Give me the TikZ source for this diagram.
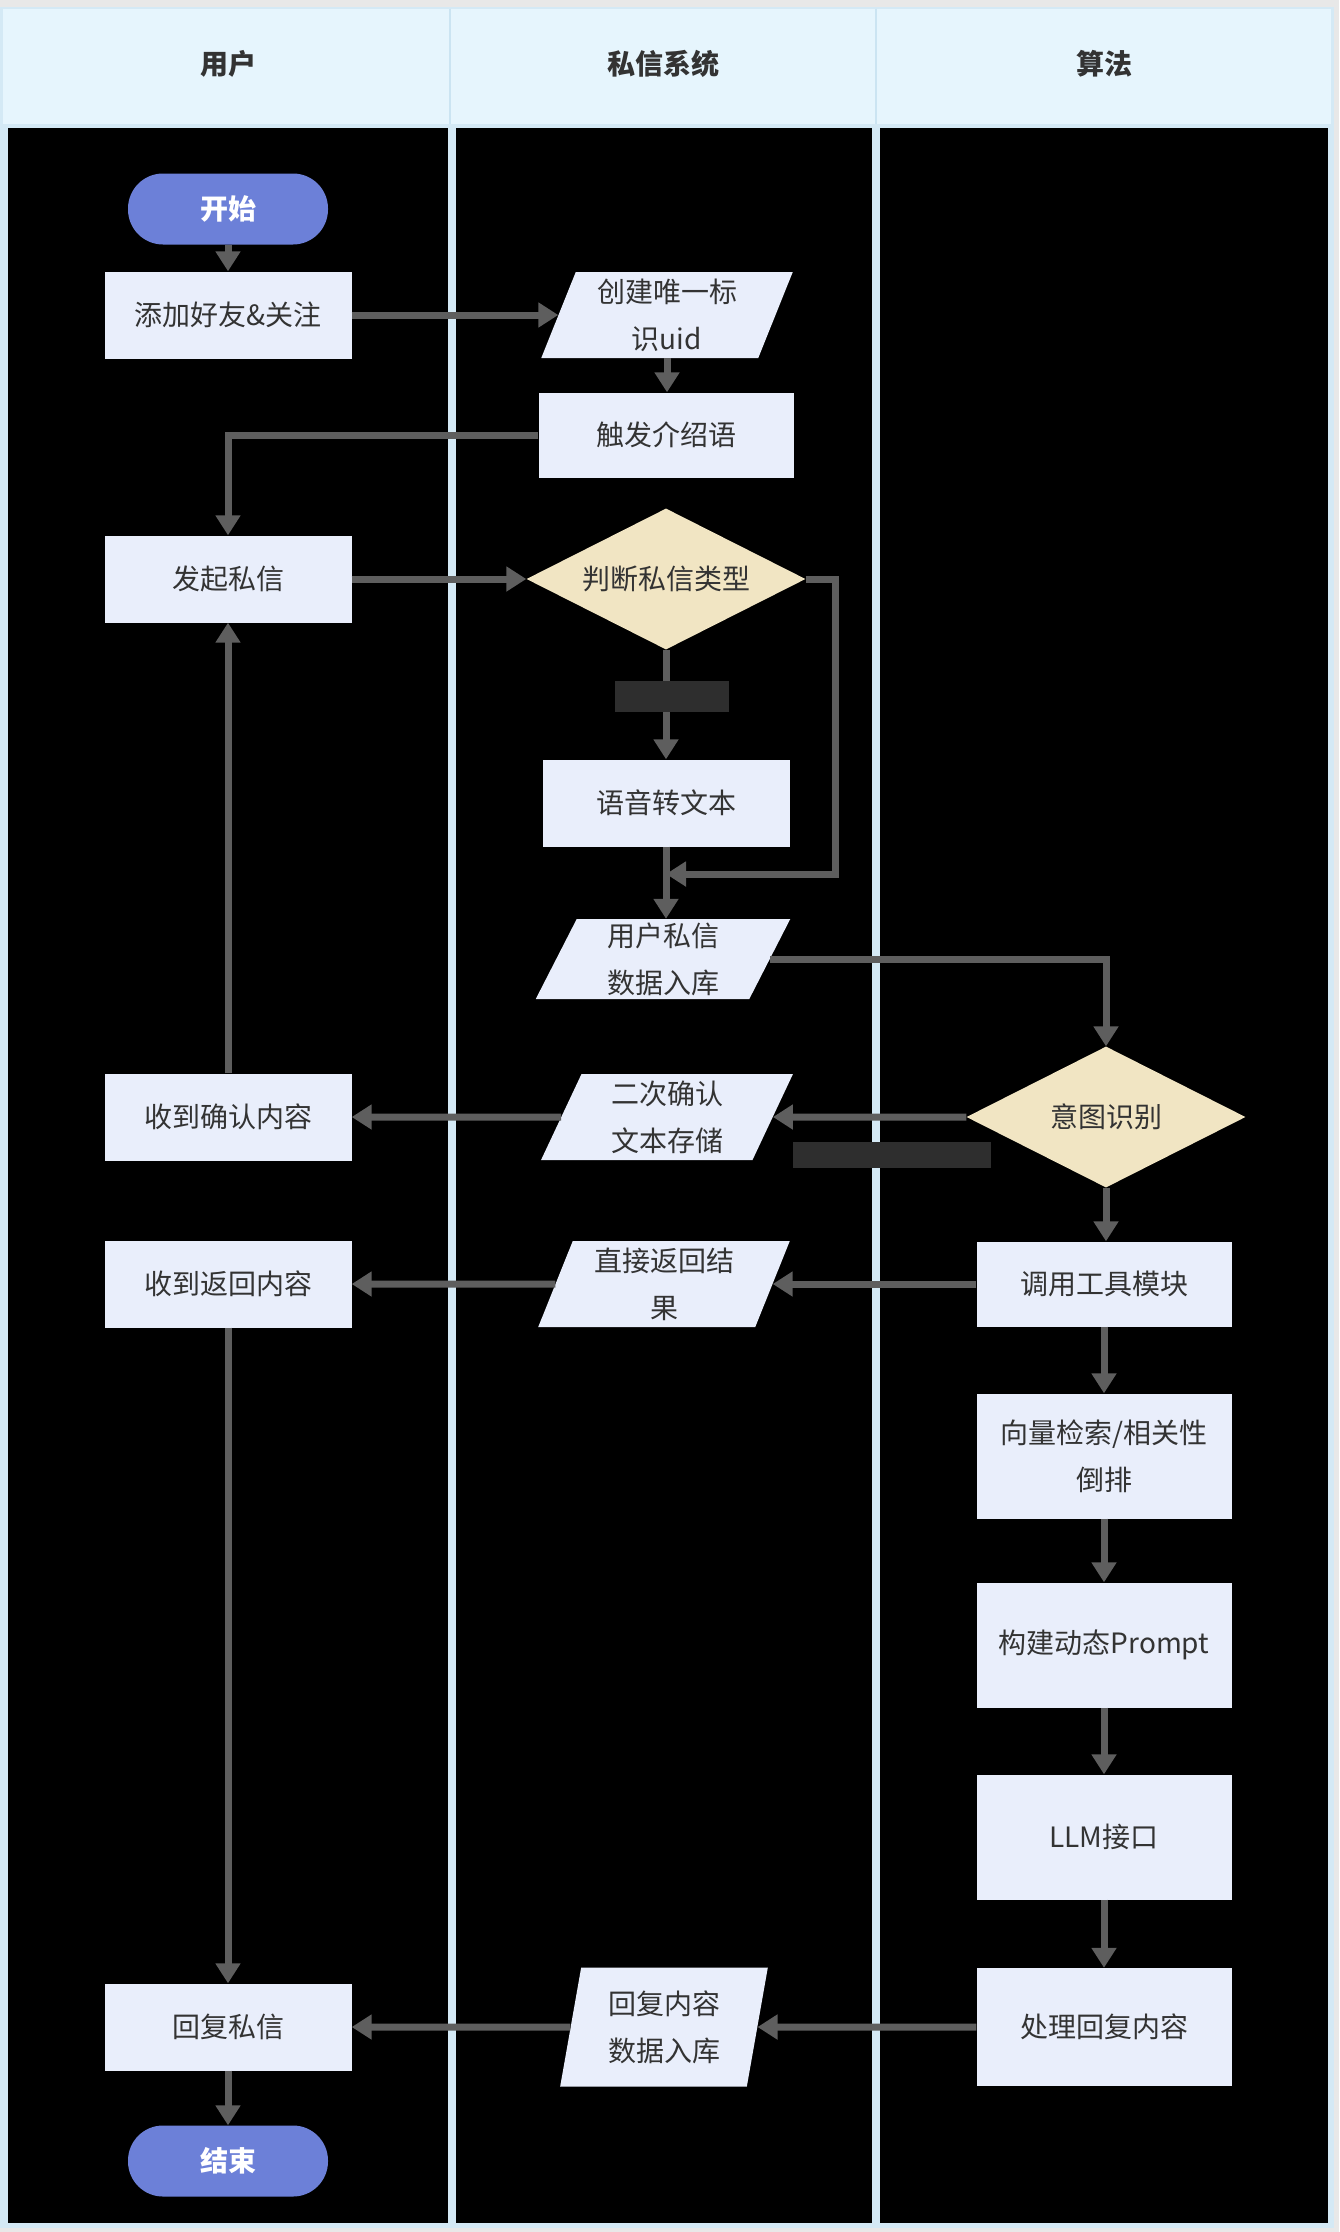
\documentclass[tikz,border=0pt]{standalone}
\usepackage{fontspec}
\setmainfont{Noto Sans CJK SC}
\usetikzlibrary{shapes.geometric,arrows.meta,calc}
\definecolor{pagegray}{HTML}{E8E8E8}
\definecolor{framebl}{HTML}{D4E9F5}
\definecolor{headbl}{HTML}{E6F5FD}
\definecolor{headline}{HTML}{CBE4F2}
\definecolor{lanebg}{HTML}{000000}
\definecolor{boxfill}{HTML}{E9EEFB}
\definecolor{decfill}{HTML}{F1E5C3}
\definecolor{termfill}{HTML}{6C80D8}
\definecolor{linegray}{HTML}{5E5E5E}
\definecolor{inkgray}{HTML}{333333}
\definecolor{tagfill}{HTML}{2E2E2E}
\begin{document}
\begin{tikzpicture}[x=1pt,y=-1pt,
  txt/.style={font=\fontsize{28pt}{47pt}\selectfont, text=inkgray, align=center},
  proc/.style={txt, rectangle, fill=boxfill, inner sep=0pt, minimum width=247pt, minimum height=87pt},
  io/.style={txt, trapezium, trapezium left angle=70, trapezium right angle=110,
    trapezium stretches=true, fill=boxfill, inner sep=0pt, minimum width=252pt, minimum height=86pt},
  decide/.style={txt, diamond, aspect=2, fill=decfill, inner sep=0pt, minimum width=279pt, minimum height=141pt},
  term/.style={rectangle, rounded corners=35pt, fill=termfill, text=white,
    font=\fontsize{28pt}{34pt}\selectfont\bfseries, minimum width=200pt, minimum height=71pt, inner sep=0pt},
  lanehead/.style={font=\fontsize{28pt}{34pt}\selectfont\bfseries, text=inkgray},
  tag/.style={rectangle, fill=tagfill, inner sep=0pt},
  flow/.style={draw=linegray, line width=7pt, -{Triangle[length=20pt,width=24pt]}},
]
% page, frame and swimlanes
\useasboundingbox (0,0) rectangle (1339,2232);
\fill[pagegray] (0,0) rectangle (1339,2232);
\fill[framebl] (0,7) rectangle (1334,2228);
\fill[headbl] (3,9) rectangle (1331,124);
\draw[headline, line width=1.5pt] (450,9) -- (450,124) (876,9) -- (876,124);
\fill[lanebg] (8,128) rectangle (448,2223);
\fill[lanebg] (456,128) rectangle (872,2223);
\fill[lanebg] (880,128) rectangle (1328,2223);

\node[lanehead] (h1) at (228,64) {用户};
\node[lanehead] (h2) at (663,64) {私信系统};
\node[lanehead] (h3) at (1104,64) {算法};

% user lane
\node[term] (start) at (228,209) {开始};
\node[proc] (add) at (228,315) {添加好友\&关注};
\node[proc] (send) at (228,579) {发起私信};
\node[proc] (gotconf) at (228,1117) {收到确认内容};
\node[proc] (gotret) at (228,1284) {收到返回内容};
\node[proc] (reply) at (228,2027) {回复私信};
\node[term] (end) at (228,2161) {结束};

% messaging system lane
\node[io] (uid) at (667,315) {创建唯一标\\识uid};
\node[proc, minimum width=255pt, minimum height=85pt] (trig) at (666,435) {触发介绍语};
\node[decide] (judge) at (666,579) {判断私信类型};
\node[proc] (voice) at (666,803) {语音转文本};
\node[io, minimum width=255pt, minimum height=80pt] (store) at (663,959) {用户私信\\数据入库};
\node[io] (conf) at (667,1117) {二次确认\\文本存储};
\node[io] (direct) at (664,1284) {直接返回结\\果};
\node[io, trapezium left angle=79, trapezium right angle=101, minimum width=208pt, minimum height=119pt] (save) at (664,2027) {回复内容\\数据入库};

% algorithm lane
\node[decide] (intent) at (1106,1117) {意图识别};
\node[proc, minimum width=255pt, minimum height=85pt] (tool) at (1104,1284) {调用工具模块};
\node[proc, minimum width=255pt, minimum height=125pt] (vec) at (1104,1456) {向量检索/相关性\\倒排};
\node[proc, minimum width=255pt, minimum height=125pt] (build) at (1104,1645) {构建动态Prompt};
\node[proc, minimum width=255pt, minimum height=125pt] (llm) at (1104,1837) {LLM接口};
\node[proc, minimum width=255pt, minimum height=118pt] (handle) at (1104,2027) {处理回复内容};

% connectors
\coordinate (merge) at (666,874);
\draw[flow] (start) -- (add);
\draw[flow] (add) -- (uid);
\draw[flow] (uid.south) -- (uid.south |- trig.north);
\draw[flow] (trig.west) -| (send.north);
\draw[flow] (send) -- (judge);
\draw[flow] (judge) -- (voice);
\draw[flow] (judge.east) -- ++(30,0) |- (merge);
\draw[flow] (voice) -- (store.north -| voice.south);
\draw[flow] (store.east) -| (intent.north);
\draw[flow] (intent) -- (conf);
\draw[flow] (conf) -- (gotconf);
\draw[flow] (gotconf) -- (send);
\draw[flow] (intent) -- (intent.south |- tool.north);
\draw[flow] (tool) -- (direct);
\draw[flow] (direct) -- (gotret);
\draw[flow] (tool) -- (vec);
\draw[flow] (vec) -- (build);
\draw[flow] (build) -- (llm);
\draw[flow] (llm) -- (handle);
\draw[flow] (handle) -- (save);
\draw[flow] (save) -- (reply);
\draw[flow] (gotret) -- (reply);
\draw[flow] (reply) -- (end);

% connector tags
\node[tag, minimum width=114pt, minimum height=31pt] (tag1) at (672,696) {};
\node[tag, minimum width=198pt, minimum height=26pt] (tag2) at (892,1155) {};
\end{tikzpicture}
\end{document}
